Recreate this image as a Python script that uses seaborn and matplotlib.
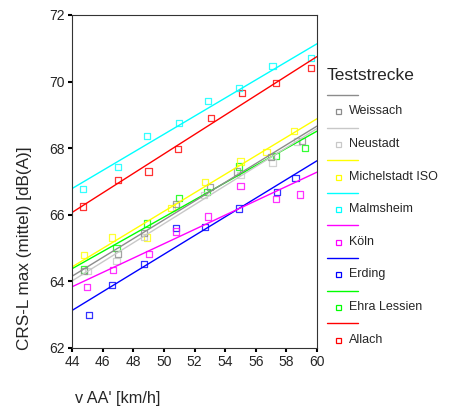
import matplotlib
matplotlib.use("Agg")
import matplotlib.pyplot as plt
import seaborn as sns
import pandas as pd
from matplotlib.lines import Line2D

sns.set_style("ticks")
plt.rcParams['font.family'] = ['Liberation Sans', 'DejaVu Sans']

# Data
series_names = ["Weissach", "Neustadt", "Michelstadt ISO", "Malmsheim",
                "Köln", "Erding", "Ehra Lessien", "Allach"]
series_colors = ["#8c8c8c", "#c8c8c8", "#ffff00", "#00ffff",
                 "#ff00ff", "#0000ff", "#00ff00", "#ff0000"]

weissach_x = [44.8, 47.0, 48.7, 50.8, 53.0, 54.8, 57.0, 59.0]
weissach_y = [64.31, 64.83, 65.46, 66.33, 66.83, 67.30, 67.74, 68.22]
neustadt_x = [45.05, 46.9, 48.7, 50.8, 52.6, 55.0, 57.1, 58.7]
neustadt_y = [64.31, 64.62, 65.33, 66.25, 66.60, 67.20, 67.57, 68.20]
michelstadt_x = [44.8, 46.6, 48.9, 50.5, 52.7, 55.0, 56.7, 58.5]
michelstadt_y = [64.80, 65.32, 65.32, 66.20, 66.98, 67.60, 67.89, 68.52]
malmsheim_x = [44.7, 47.0, 48.9, 51.0, 52.9, 54.9, 57.1, 59.6]
malmsheim_y = [66.77, 67.44, 68.37, 68.75, 69.41, 69.81, 70.46, 70.71]
koeln_x = [45.0, 46.7, 49.05, 50.8, 52.9, 55.0, 57.3, 58.9]
koeln_y = [63.83, 64.34, 64.83, 65.50, 65.95, 66.86, 66.48, 66.61]
erding_x = [45.1, 46.6, 48.7, 50.8, 52.7, 54.9, 57.4, 58.6]
erding_y = [63.00, 63.90, 64.53, 65.60, 65.64, 66.19, 66.69, 67.11]
ehra_x = [44.8, 46.9, 48.9, 51.0, 52.8, 54.9, 57.3, 59.2]
ehra_y = [64.36, 65.00, 65.74, 66.51, 66.69, 67.45, 67.77, 68.00]
allach_x = [44.7, 47.0, 49.0, 50.9, 53.1, 55.1, 57.3, 59.6]
allach_y = [66.25, 67.05, 67.30, 67.97, 68.90, 69.65, 69.95, 70.42]

all_x = [weissach_x, neustadt_x, michelstadt_x, malmsheim_x,
         koeln_x, erding_x, ehra_x, allach_x]
all_y = [weissach_y, neustadt_y, michelstadt_y, malmsheim_y,
         koeln_y, erding_y, ehra_y, allach_y]

x_ticks = [44, 46, 48, 50, 52, 54, 56, 58, 60]
y_ticks = [62, 64, 66, 68, 70, 72]

rows = []
for name, xs, ys in zip(series_names, all_x, all_y):
    for xv, yv in zip(xs, ys):
        rows.append({"Teststrecke": name, "v": xv, "L": yv})
df = pd.DataFrame(rows)

W, H = 449, 412
fig = plt.figure(figsize=(W / 100, H / 100), dpi=100)
ax = fig.add_axes([72 / W, 1 - 348 / H, (317 - 72) / W, (348 - 15) / H])
ax.set_xlim(44, 60)
ax.set_ylim(62, 72)

# draw in reverse so Weissach ends on top
for name, col in list(zip(series_names, series_colors))[::-1]:
    sub = df[df["Teststrecke"] == name]
    sns.regplot(data=sub, x="v", y="L", ax=ax, ci=None, truncate=False,
                marker="s",
                scatter_kws=dict(s=20, facecolors="none", edgecolors=col,
                                 linewidths=0.9),
                line_kws=dict(color=col, lw=1.0))

ax.set_xlim(44, 60)
ax.set_ylim(62, 72)
ax.set_xticks(x_ticks)
ax.set_yticks(y_ticks)
ax.tick_params(direction="out", length=3, width=1.5, labelsize=10,
               color="black", pad=2)
for sp in ax.spines.values():
    sp.set_color("#333333")
    sp.set_linewidth(0.8)
ax.set_xlabel("")
ax.set_ylabel("")

fig.text(25 / W, 1 - 248 / H, "CRS-L max (mittel) [dB(A)]", rotation=90,
         ha="center", va="center", fontsize=12.3)
fig.text(75 / W, 1 - 398 / H, "v AA' [km/h]", ha="left", va="center",
         fontsize=11.7)

# legend (manual, SPSS style)
fig.text(327 / W, 1 - 75 / H, "Teststrecke", ha="left", va="center",
         fontsize=12.5)
for i, (name, col) in enumerate(zip(series_names, series_colors)):
    yl = 95 + i * 32.6
    ym = yl + 16.3
    fig.add_artist(Line2D([327 / W, 358 / W], [1 - yl / H, 1 - yl / H],
                          transform=fig.transFigure, color=col, lw=1.0))
    fig.add_artist(Line2D([338 / W], [1 - ym / H], transform=fig.transFigure,
                          marker="s", markersize=3.6, markerfacecolor="none",
                          markeredgecolor=col, markeredgewidth=0.9, ls="none"))
    fig.text(349 / W, 1 - ym / H, name, ha="left", va="center", fontsize=9)

fig.savefig("out.png", dpi=100)
